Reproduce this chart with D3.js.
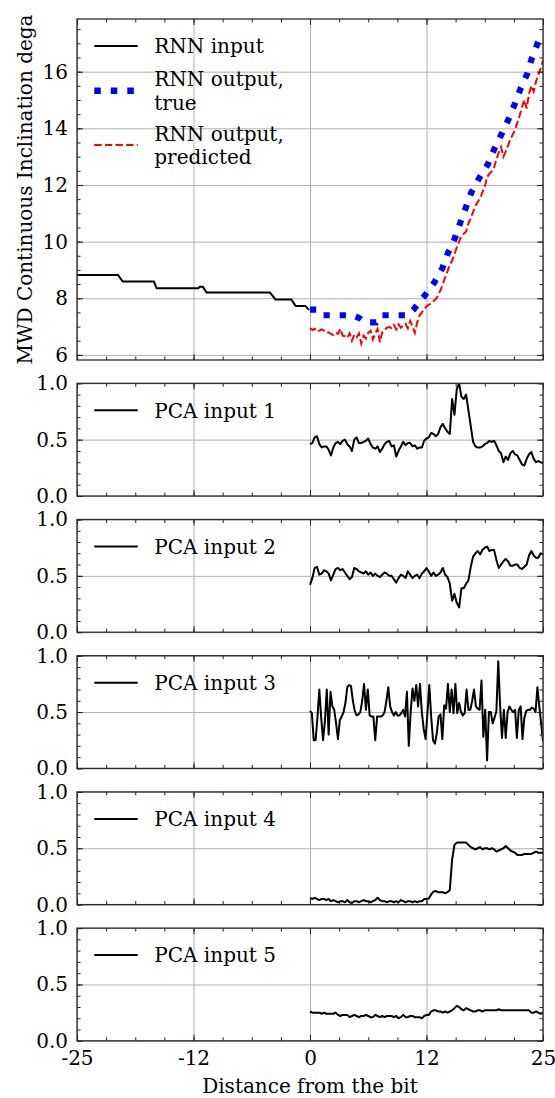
<!DOCTYPE html>
<html>
<head>
<meta charset="utf-8">
<script src="https://cdn.jsdelivr.net/npm/d3@7"></script>
<style>
	body { margin: 0; background: #fff; }
	text { font-family: 'DejaVu Serif', serif; font-size: 20px; fill: #000; }
</style>
</head>
<body>
<svg id="chart" width="555" height="1098"></svg>
<script>
// NOTE data
const inputDist = [-25, -20.6, -20.1, -16.75, -16.45, -12.0, -11.8, -11.5, -11.1, -4.3, -3.7, -2.0, -1.55, -0.5, -0.1];
const inputIncl = [8.82, 8.82, 8.59, 8.59, 8.35, 8.35, 8.41, 8.41, 8.2, 8.2, 7.96, 7.96, 7.73, 7.73, 7.59];

const trueDist = [0, 0.9, 1.4, 4.6, 5.3, 5.9, 7.1, 7.6, 10.5, 11.1, 12.3, 13.3, 14.2, 14.8, 15.5, 16.1, 16.7,
	17.3, 18.2, 19.1, 19.8, 20.6, 21.3, 22.0, 22.6, 23.3, 23.8, 24.6];
const trueIncl = [7.6, 7.6, 7.4, 7.4, 7.3, 7.15, 7.15, 7.4, 7.4, 7.6, 8.09, 8.54, 9.06, 9.6, 10.08, 10.65, 11.18,
	11.73, 12.27, 12.74, 13.29, 13.83, 14.32, 14.88, 15.41, 15.92, 16.47, 17.15];

// predicted, 0 -> 25 every 0.25
const predIncl = [
	6.95, 6.88, 6.92, 6.82, 6.86, 6.90, 6.86, 6.78, 6.80, 6.74,
	6.70, 6.78, 6.74, 6.92, 6.68, 6.66, 6.60, 6.76, 6.50, 6.70,
	6.62, 6.76, 6.40, 6.68, 6.58, 6.78, 6.86, 6.55, 6.76, 6.92,
	6.45, 6.80, 6.88, 6.96, 6.98, 6.95, 7.06, 6.90, 7.08, 6.96,
	7.05, 7.10, 6.94, 7.20, 7.00, 6.78, 7.15, 7.38, 7.50, 7.62,
	7.71, 7.78, 7.82, 7.90, 7.97, 8.12, 8.28, 8.50, 8.74, 8.95,
	9.18, 9.33, 9.55, 9.80, 10.00, 10.22, 10.28, 10.36, 10.65, 10.82,
	11.05, 11.26, 11.40, 11.54, 11.74, 11.93, 12.28, 12.40, 12.48, 12.62,
	12.90, 13.15, 13.34, 13.00, 13.18, 13.40, 13.62, 13.78, 13.95, 14.20,
	14.45, 14.76, 15.00, 14.70, 15.22, 15.50, 15.30, 15.66, 15.88, 16.12,
	16.40];

const pca1 = [
	0.46, 0.47, 0.52, 0.53, 0.46, 0.43, 0.44, 0.44, 0.41, 0.36,
	0.43, 0.47, 0.48, 0.46, 0.49, 0.50, 0.46, 0.44, 0.40, 0.50,
	0.52, 0.47, 0.47, 0.48, 0.49, 0.51, 0.46, 0.43, 0.42, 0.44,
	0.39, 0.42, 0.46, 0.48, 0.49, 0.44, 0.45, 0.35, 0.40, 0.44,
	0.48, 0.45, 0.47, 0.47, 0.44, 0.45, 0.42, 0.43, 0.43, 0.49,
	0.51, 0.52, 0.56, 0.55, 0.53, 0.55, 0.61, 0.64, 0.60, 0.57,
	0.55, 0.86, 0.72, 0.95, 1.00, 0.88, 0.86, 0.90, 0.76, 0.62,
	0.48, 0.44, 0.43, 0.43, 0.44, 0.46, 0.47, 0.49, 0.48, 0.49,
	0.45, 0.40, 0.38, 0.30, 0.35, 0.32, 0.38, 0.40, 0.37, 0.36,
	0.32, 0.28, 0.27, 0.33, 0.37, 0.39, 0.33, 0.30, 0.31, 0.30,
	0.29];

const pca2 = [
	0.42, 0.48, 0.57, 0.58, 0.51, 0.52, 0.55, 0.54, 0.52, 0.46,
	0.51, 0.56, 0.57, 0.55, 0.56, 0.53, 0.50, 0.47, 0.49, 0.57,
	0.56, 0.54, 0.53, 0.52, 0.54, 0.51, 0.53, 0.50, 0.52, 0.50,
	0.49, 0.51, 0.53, 0.52, 0.50, 0.50, 0.47, 0.44, 0.48, 0.51,
	0.50, 0.48, 0.54, 0.51, 0.48, 0.50, 0.51, 0.48, 0.52, 0.54,
	0.57, 0.54, 0.50, 0.53, 0.50, 0.51, 0.53, 0.57, 0.51, 0.49,
	0.43, 0.28, 0.34, 0.26, 0.22, 0.39, 0.39, 0.43, 0.46, 0.58,
	0.67, 0.70, 0.72, 0.69, 0.73, 0.75, 0.76, 0.72, 0.73, 0.73,
	0.64, 0.57, 0.60, 0.63, 0.65, 0.63, 0.59, 0.59, 0.60, 0.60,
	0.57, 0.56, 0.58, 0.60, 0.68, 0.72, 0.68, 0.66, 0.66, 0.70,
	0.69];

// pca 3 is sampled finer (0 -> 25 every 0.2)
const pca3 = [
	0.51, 0.49, 0.25, 0.25, 0.45, 0.70, 0.45, 0.25, 0.42, 0.70,
	0.30, 0.68, 0.55, 0.52, 0.40, 0.26, 0.43, 0.46, 0.50, 0.58,
	0.72, 0.74, 0.73, 0.60, 0.51, 0.47, 0.48, 0.50, 0.60, 0.75,
	0.52, 0.70, 0.47, 0.46, 0.46, 0.25, 0.46, 0.46, 0.46, 0.47,
	0.50, 0.60, 0.72, 0.55, 0.50, 0.47, 0.50, 0.47, 0.47, 0.49,
	0.52, 0.46, 0.68, 0.20, 0.50, 0.71, 0.60, 0.74, 0.55, 0.75,
	0.50, 0.35, 0.26, 0.49, 0.74, 0.46, 0.25, 0.22, 0.31, 0.46,
	0.48, 0.26, 0.56, 0.53, 0.75, 0.50, 0.70, 0.49, 0.75, 0.49,
	0.58, 0.50, 0.47, 0.49, 0.70, 0.52, 0.52, 0.60, 0.70, 0.55,
	0.53, 0.52, 0.78, 0.28, 0.52, 0.07, 0.50, 0.50, 0.40, 0.45,
	0.51, 0.95, 0.55, 0.27, 0.52, 0.27, 0.50, 0.55, 0.52, 0.50,
	0.52, 0.27, 0.52, 0.55, 0.26, 0.45, 0.51, 0.52, 0.52, 0.54,
	0.53, 0.50, 0.72, 0.55, 0.40, 0.24];

const pca4 = [
	0.06, 0.05, 0.06, 0.05, 0.04, 0.05, 0.05, 0.04, 0.05, 0.03,
	0.04, 0.03, 0.02, 0.03, 0.03, 0.02, 0.04, 0.02, 0.015, 0.03,
	0.03, 0.02, 0.03, 0.04, 0.03, 0.03, 0.02, 0.03, 0.04, 0.06,
	0.04, 0.03, 0.03, 0.02, 0.03, 0.03, 0.02, 0.03, 0.02, 0.04,
	0.03, 0.02, 0.03, 0.03, 0.02, 0.03, 0.02, 0.03, 0.03, 0.05,
	0.05, 0.055, 0.09, 0.115, 0.12, 0.11, 0.11, 0.11, 0.10, 0.11,
	0.13, 0.40, 0.53, 0.55, 0.55, 0.55, 0.55, 0.55, 0.53, 0.51,
	0.50, 0.49, 0.50, 0.51, 0.49, 0.50, 0.50, 0.49, 0.50, 0.49,
	0.47, 0.48, 0.49, 0.50, 0.52, 0.50, 0.48, 0.47, 0.46, 0.44,
	0.44, 0.44, 0.45, 0.45, 0.45, 0.45, 0.46, 0.47, 0.46, 0.46,
	0.46];

const pca5 = [
	0.26, 0.25, 0.25, 0.25, 0.25, 0.24, 0.25, 0.24, 0.24, 0.24,
	0.24, 0.25, 0.23, 0.22, 0.23, 0.23, 0.23, 0.21, 0.22, 0.23,
	0.22, 0.21, 0.22, 0.22, 0.23, 0.22, 0.21, 0.21, 0.23, 0.22,
	0.21, 0.22, 0.21, 0.22, 0.22, 0.22, 0.21, 0.22, 0.20, 0.21,
	0.23, 0.21, 0.21, 0.22, 0.22, 0.21, 0.21, 0.21, 0.20, 0.22,
	0.23, 0.23, 0.26, 0.27, 0.27, 0.26, 0.26, 0.25, 0.26, 0.25,
	0.26, 0.27, 0.29, 0.31, 0.30, 0.28, 0.27, 0.29, 0.28, 0.27,
	0.26, 0.26, 0.27, 0.27, 0.26, 0.27, 0.27, 0.27, 0.27, 0.27,
	0.27, 0.28, 0.27, 0.27, 0.27, 0.27, 0.27, 0.27, 0.27, 0.27,
	0.27, 0.27, 0.27, 0.27, 0.27, 0.25, 0.25, 0.26, 0.25, 0.24,
	0.25];

const pcaSeries = [pca1, pca2, pca3, pca4, pca5];
const pcaNames = ['PCA input 1', 'PCA input 2', 'PCA input 3', 'PCA input 4', 'PCA input 5'];

const xTickValues = [-25, -12.5, 0, 12.5, 25];
const xTickLabels = ['-25', '-12', '0', '12', '25'];
const inclTicks = [6, 8, 10, 12, 14, 16];
const pcaTicks = [0, 0.5, 1];

// NOTE layout
const left = 77, right = 543;
const svg = d3.select('#chart');
const x = d3.scaleLinear().domain([-25, 25]).range([left, right]);
const xMinor = d3.range(-25, 25.001, 3.125);

// spread a series over 0..25
const toPoints = (vals) => vals.map((v, i) => [(i * 25) / (vals.length - 1), v]);

function drawGrid(top, h, y, yMajor) {
	const g = svg.append('g');

	g.append('g')
		.attr('class', 'grid')
		.attr('transform', 'translate(0,' + (top + h) + ')')
		.call(d3.axisBottom(x).tickValues(xTickValues).tickSize(-h).tickFormat(''));
	g.append('g')
		.attr('class', 'grid')
		.attr('transform', 'translate(' + left + ',0)')
		.call(d3.axisLeft(y).tickValues(yMajor).tickSize(-(right - left)).tickFormat(''));
	g.selectAll('.grid .domain').remove();
	g.selectAll('.grid line').attr('stroke', '#b0b0b0').attr('stroke-width', 1);
}

function drawTicks(top, h, y, yMajor, yMinor, yFmt, xLabels) {
	const g = svg.append('g');
	const bottom = top + h;

	g.append('g')
		.attr('transform', 'translate(0,' + bottom + ')')
		.call(d3.axisBottom(x).tickValues(xTickValues).tickSize(-6).tickPadding(10)
			.tickFormat((d, i) => (xLabels ? xTickLabels[i] : '')));
	g.append('g')
		.attr('transform', 'translate(0,' + bottom + ')')
		.call(d3.axisBottom(x).tickValues(xMinor).tickSize(-3.5).tickFormat(''));
	g.append('g')
		.attr('transform', 'translate(0,' + top + ')')
		.call(d3.axisTop(x).tickValues(xTickValues).tickSize(-6).tickFormat(''));
	g.append('g')
		.attr('transform', 'translate(0,' + top + ')')
		.call(d3.axisTop(x).tickValues(xMinor).tickSize(-3.5).tickFormat(''));

	g.append('g')
		.attr('transform', 'translate(' + left + ',0)')
		.call(d3.axisLeft(y).tickValues(yMajor).tickSize(-6).tickPadding(9).tickFormat(yFmt));
	g.append('g')
		.attr('transform', 'translate(' + left + ',0)')
		.call(d3.axisLeft(y).tickValues(yMinor).tickSize(-3.5).tickFormat(''));
	g.append('g')
		.attr('transform', 'translate(' + right + ',0)')
		.call(d3.axisRight(y).tickValues(yMajor).tickSize(-6).tickFormat(''));
	g.append('g')
		.attr('transform', 'translate(' + right + ',0)')
		.call(d3.axisRight(y).tickValues(yMinor).tickSize(-3.5).tickFormat(''));

	g.selectAll('.domain').remove();
	g.selectAll('.tick line').attr('stroke', '#222').attr('stroke-width', 1);
	g.selectAll('.tick text')
		.attr('font-family', "'DejaVu Serif', serif")
		.attr('font-size', 20)
		.attr('fill', '#000');

	g.append('rect')
		.attr('x', left)
		.attr('y', top)
		.attr('width', right - left)
		.attr('height', h)
		.attr('fill', 'none')
		.attr('stroke', '#2a2a2a')
		.attr('stroke-width', 1.3);
}

function clip(id, top, h) {
	svg.append('clipPath')
		.attr('id', id)
		.append('rect')
		.attr('x', left)
		.attr('y', top)
		.attr('width', right - left)
		.attr('height', h);
}

function legendEntry(yMid, lines, stroke, width, dash) {
	const l = svg.append('line')
		.attr('x1', 94.3)
		.attr('x2', 137.7)
		.attr('y1', yMid)
		.attr('y2', yMid)
		.attr('stroke', stroke)
		.attr('stroke-width', width);
	if (dash) l.attr('stroke-dasharray', dash);

	const lh = 23.4;
	lines.forEach((s, i) => {
		svg.append('text')
			.attr('x', 154.3)
			.attr('y', yMid + 7.3 + (i - (lines.length - 1) / 2) * lh)
			.text(s);
	});
}

// NOTE top panel
const topY = 19, topH = 341;
const yIncl = d3.scaleLinear().domain([5.82, 17.86]).range([topY + topH, topY]);
const inclMinor = d3.range(6, 17.8, 0.5);

drawGrid(topY, topH, yIncl, inclTicks);
clip('clip-top', topY, topH);

const inclLine = d3.line().x((d) => x(d[0])).y((d) => yIncl(d[1]));
const plotTop = svg.append('g').attr('clip-path', 'url(#clip-top)');

plotTop.append('path')
	.attr('d', inclLine(inputDist.map((d, i) => [d, inputIncl[i]])))
	.attr('fill', 'none')
	.attr('stroke', '#000')
	.attr('stroke-width', 2);

plotTop.append('path')
	.attr('d', inclLine(trueDist.map((d, i) => [d, trueIncl[i]])))
	.attr('fill', 'none')
	.attr('stroke', '#0000ff')
	.attr('stroke-width', 6.2)
	.attr('stroke-dasharray', '6.2,10');

plotTop.append('path')
	.attr('d', inclLine(toPoints(predIncl)))
	.attr('fill', 'none')
	.attr('stroke', '#ff0000')
	.attr('stroke-width', 2)
	.attr('stroke-dasharray', '7.4,3.2');

drawTicks(topY, topH, yIncl, inclTicks, inclMinor, d3.format('d'), false);

legendEntry(46, ['RNN input'], '#000', 2);
legendEntry(90.7, ['RNN output,', 'true'], '#0000ff', 6.5, '6.5,10');
legendEntry(145, ['RNN output,', 'predicted'], '#ff0000', 2, '7.4,3.2');

svg.append('text')
	.attr('transform', 'translate(31.5,189.5) rotate(-90)')
	.attr('text-anchor', 'middle')
	.attr('font-size', 21)
	.text('MWD Continuous Inclination dega');

// NOTE PCA panels
const pcaTop0 = 383.3, pcaStep = 136.2, pcaH = 112.7;
const pcaMinor = d3.range(0, 1.001, 0.1);

pcaSeries.forEach((vals, k) => {
	const top = pcaTop0 + k * pcaStep;
	const y = d3.scaleLinear().domain([0, 1]).range([top + pcaH, top]);
	const last = k === pcaSeries.length - 1;

	drawGrid(top, pcaH, y, pcaTicks);
	clip('clip-pca' + k, top, pcaH);

	svg.append('g')
		.attr('clip-path', 'url(#clip-pca' + k + ')')
		.append('path')
		.attr('d', d3.line().x((d) => x(d[0])).y((d) => y(d[1]))(toPoints(vals)))
		.attr('fill', 'none')
		.attr('stroke', '#000')
		.attr('stroke-width', 2)
		.attr('stroke-linejoin', 'round');

	drawTicks(top, pcaH, y, pcaTicks, pcaMinor, d3.format('.1f'), last);
	legendEntry(top + 27, [pcaNames[k]], '#000', 2);
});

svg.append('text')
	.attr('x', 310)
	.attr('y', 1093)
	.attr('text-anchor', 'middle')
	.attr('font-size', 21)
	.text('Distance from the bit');
</script>
</body>
</html>
